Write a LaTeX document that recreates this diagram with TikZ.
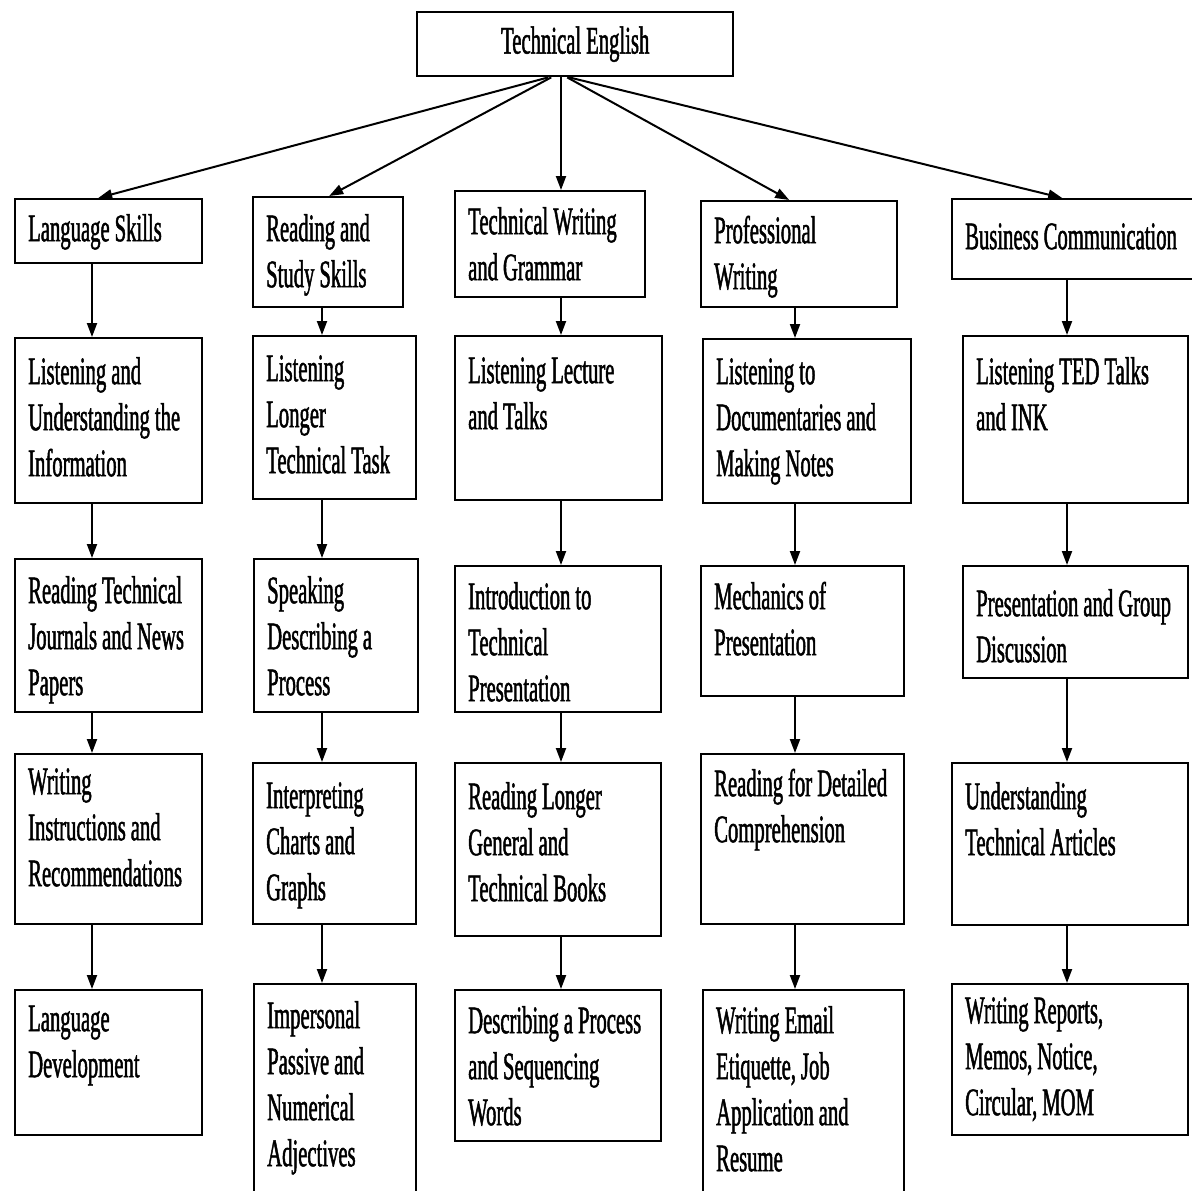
\documentclass[tikz,border=0pt]{standalone}
\usepackage{fontspec}
\setmainfont{Liberation Serif}[FakeStretch=0.53,FakeBold=1.2]
\usetikzlibrary{arrows.meta}
\newcommand{\boxfont}{\fontsize{39pt}{46pt}\selectfont}
\newcommand{\tws}{\nobreak\hspace{5pt}}
\hyphenpenalty=10000
\hbadness=10000
\hfuzz=50pt

\begin{document}
\begin{tikzpicture}[
			x=1pt, y=-1pt,
			stagebox/.style={
				rectangle,
				draw=black,
				line width=2.4pt,
				anchor=north west,
				inner xsep=13pt,
				inner ysep=0pt,
				align=left,
				font=\boxfont
			},
			rootbox/.style={
				rectangle,
				draw=black,
				line width=2.4pt,
				anchor=north west,
				minimum width=316pt,
				minimum height=64pt,
				inner sep=0pt,
				align=center,
				font=\boxfont
			},
			arrow/.style={
				-{Triangle[length=14pt,width=10pt]},
				line width=2pt,
				draw=black
			}
			]
			\useasboundingbox[fill=white] (0,0) rectangle (1192,1191);
			\coordinate (c1) at (92,0);
			\coordinate (c2) at (322,0);
			\coordinate (c3) at (561,0);
			\coordinate (c4) at (795,0);
			\coordinate (c5) at (1067,0);
			
			\node[rootbox] (root) at (416,11) {Technical\tws English};
			
			\node[stagebox, text width=161pt, text height=42pt, text depth=22pt] (lang) at (14,198) {Language\tws Skills};
			\node[stagebox, text width=124pt, text height=44pt, text depth=66pt] (read) at (252,196) {Reading\tws and\\Study\tws Skills};
			\node[stagebox, text width=164pt, text height=43pt, text depth=63pt] (techw) at (454,190) {Technical\tws Writing\\and\tws Grammar};
			\node[stagebox, text width=170pt, text height=42pt, text depth=64pt] (prof) at (700,200) {Professional\\Writing};
			\node[stagebox, text width=218pt, text height=50pt, text depth=30pt] (bus) at (951,198) {Business\tws Communication};
			
			\node[stagebox, text width=161pt, text height=46pt, text depth=119pt] (lis1) at (14,337) {Listening\tws and\\Understanding\tws the\\Information};
			\node[stagebox, text width=137pt, text height=45pt, text depth=118pt] (lis2) at (252,335) {Listening\\Longer\\Technical\tws Task};
			\node[stagebox, text width=181pt, text height=47pt, text depth=117pt] (lis3) at (454,335) {Listening\tws Lecture\\and\tws Talks};
			\node[stagebox, text width=182pt, text height=45pt, text depth=119pt] (lis4) at (702,338) {Listening\tws to\\Documentaries\tws and\\Making\tws Notes};
			\node[stagebox, text width=199pt, text height=48pt, text depth=119pt] (lis5) at (962,335) {Listening\tws TED\tws Talks\\and\tws INK};
			
			\node[stagebox, text width=161pt, text height=44pt, text depth=109pt] (journ) at (14,558) {Reading\tws Technical\\Journals\tws and\tws News\\Papers};
			\node[stagebox, text width=138pt, text height=44pt, text depth=109pt] (speak) at (253,558) {Speaking\\Describing\tws a\\Process};
			\node[stagebox, text width=180pt, text height=43pt, text depth=103pt] (intro) at (454,565) {Introduction\tws to\\Technical\\Presentation};
			\node[stagebox, text width=177pt, text height=43pt, text depth=87pt] (mech) at (700,565) {Mechanics\tws of\\Presentation};
			\node[stagebox, text width=199pt, text height=50pt, text depth=62pt] (pres) at (962,565) {Presentation\tws and\tws Group\\Discussion};
			
			\node[stagebox, text width=161pt, text height=40pt, text depth=130pt] (instr) at (14,753) {Writing\\Instructions\tws and\\Recommendations};
			\node[stagebox, text width=137pt, text height=45pt, text depth=116pt] (charts) at (252,762) {Interpreting\\Charts\tws and\\Graphs};
			\node[stagebox, text width=180pt, text height=46pt, text depth=127pt] (books) at (454,762) {Reading\tws Longer\\General\tws and\\Technical\tws Books};
			\node[stagebox, text width=177pt, text height=42pt, text depth=128pt] (compr) at (700,753) {Reading\tws for\tws Detailed\\Comprehension};
			\node[stagebox, text width=210pt, text height=46pt, text depth=116pt] (artic) at (951,762) {Understanding\\Technical\tws Articles};
			
			\node[stagebox, text width=161pt, text height=41pt, text depth=104pt] (ldev) at (14,989) {Language\\Development};
			\node[stagebox, text width=136pt, text height=44pt, text depth=188pt] (passive) at (253,983) {Impersonal\\Passive\tws and\\Numerical\\Adjectives};
			\node[stagebox, text width=180pt, text height=43pt, text depth=108pt] (seq) at (454,989) {Describing\tws a\tws Process\\and\tws Sequencing\\Words};
			\node[stagebox, text width=175pt, text height=43pt, text depth=183pt] (email) at (702,989) {Writing\tws Email\\Etiquette,\tws Job\\Application\tws and\\Resume};
			\node[stagebox, text width=210pt, text height=39pt, text depth=112pt] (reports) at (951,983) {Writing\tws Reports,\\Memos,\tws Notice,\\Circular,\tws MOM};
			
			\draw[arrow] ([xshift=-27pt]root.south) -- ([xshift=-10.5pt]lang.north);
			\draw[arrow] ([xshift=-24pt]root.south) -- ([xshift=1pt]read.north);
			\draw[arrow] (root.south -| c3) -- (techw.north -| c3);
			\draw[arrow] ([xshift=-8pt]root.south) -- ([xshift=-10pt]prof.north);
			\draw[arrow] ([xshift=-6pt]root.south) -- ([xshift=-12pt]bus.north);
			
			\draw[arrow] (lang.south -| c1) -- (lis1.north -| c1);
			\draw[arrow] (lis1.south -| c1) -- (journ.north -| c1);
			\draw[arrow] (journ.south -| c1) -- (instr.north -| c1);
			\draw[arrow] (instr.south -| c1) -- (ldev.north -| c1);
			
			\draw[arrow] (read.south -| c2) -- (lis2.north -| c2);
			\draw[arrow] (lis2.south -| c2) -- (speak.north -| c2);
			\draw[arrow] (speak.south -| c2) -- (charts.north -| c2);
			\draw[arrow] (charts.south -| c2) -- (passive.north -| c2);
			
			\draw[arrow] (techw.south -| c3) -- (lis3.north -| c3);
			\draw[arrow] (lis3.south -| c3) -- (intro.north -| c3);
			\draw[arrow] (intro.south -| c3) -- (books.north -| c3);
			\draw[arrow] (books.south -| c3) -- (seq.north -| c3);
			
			\draw[arrow] (prof.south -| c4) -- (lis4.north -| c4);
			\draw[arrow] (lis4.south -| c4) -- (mech.north -| c4);
			\draw[arrow] (mech.south -| c4) -- (compr.north -| c4);
			\draw[arrow] (compr.south -| c4) -- (email.north -| c4);
			
			\draw[arrow] (bus.south -| c5) -- (lis5.north -| c5);
			\draw[arrow] (lis5.south -| c5) -- (pres.north -| c5);
			\draw[arrow] (pres.south -| c5) -- (artic.north -| c5);
			\draw[arrow] (artic.south -| c5) -- (reports.north -| c5);
		\end{tikzpicture}
\end{document}
